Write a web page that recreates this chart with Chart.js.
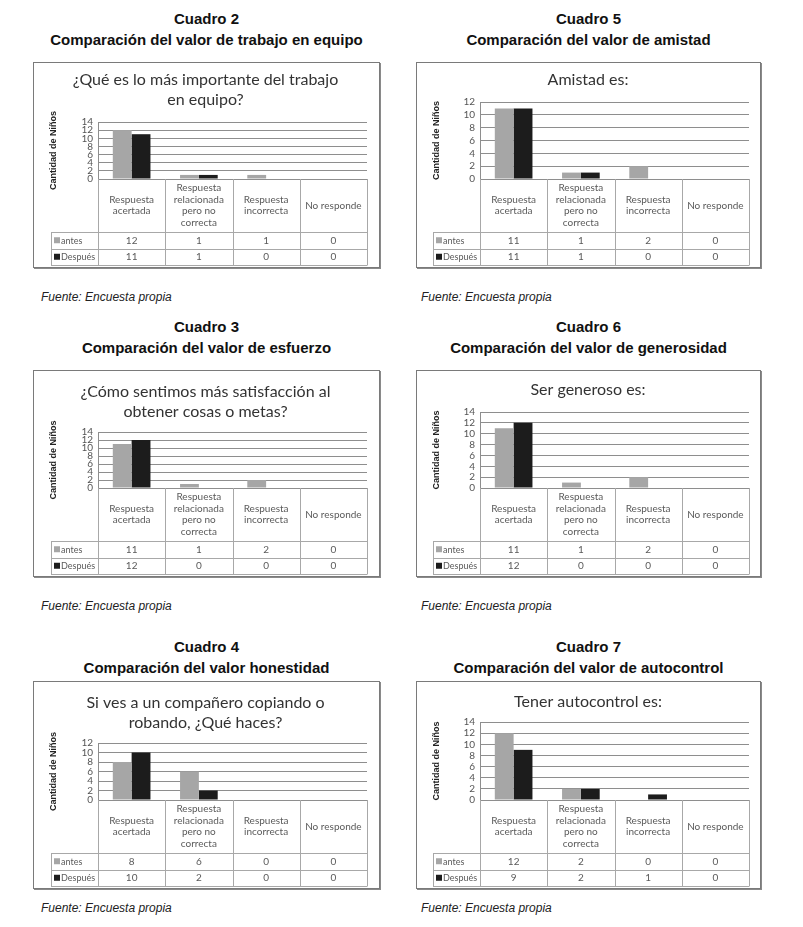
<!DOCTYPE html>
<html>
<head>
<meta charset="utf-8">
<script src="https://cdn.jsdelivr.net/npm/chart.js@4"></script>
<style>
    body { margin: 0; background: #fff; width: 803px; height: 927px; position: relative; overflow: hidden; font-family: "Liberation Sans", Arial, sans-serif; }
    .heading { position: absolute; text-align: center; font-weight: bold; font-size: 15px; line-height: 21px; color: #111; white-space: nowrap; }
    .box { position: absolute; box-sizing: border-box; border: 1px solid #7a7a7a; box-shadow: 1px 1px 0 #8a8a8a; background: #fff; }
    .box canvas { display: block; }
    .source { position: absolute; font-style: italic; font-size: 12px; line-height: 14px; color: #222; white-space: nowrap; }
</style>
</head>
<body>
<script>
// Shared labels
const categories = [
    ['Respuesta', 'acertada'],
    ['Respuesta', 'relacionada', 'pero no', 'correcta'],
    ['Respuesta', 'incorrecta'],
    ['No responde']
];
const seriesNames = ['antes', 'Después'];
const yAxisTitle = 'Cantidad de Niños';
const sourceText = 'Fuente: Encuesta propia';

// Values per chart (antes / Después)
const trabajoAntes = [12, 1, 1, 0];
const trabajoDespues = [11, 1, 0, 0];
const amistadAntes = [11, 1, 2, 0];
const amistadDespues = [11, 1, 0, 0];
const esfuerzoAntes = [11, 1, 2, 0];
const esfuerzoDespues = [12, 0, 0, 0];
const generosidadAntes = [11, 1, 2, 0];
const generosidadDespues = [12, 0, 0, 0];
const honestidadAntes = [8, 6, 0, 0];
const honestidadDespues = [10, 2, 0, 0];
const autocontrolAntes = [12, 2, 0, 0];
const autocontrolDespues = [9, 2, 1, 0];

// Y axis maxima
const yMax = [14, 12, 14, 14, 12, 14];

// Layout of the two columns and three rows
const columns = [
    { boxLeft: 33, boxW: 347, plotLeft: 98, plotRight: 367, legendLeft: 51, sourceLeft: 41 },
    { boxLeft: 416, boxW: 345, plotLeft: 480, plotRight: 749, legendLeft: 433, sourceLeft: 421 }
];
const rows = [
    { headTop: 8, boxTop: 62, zeroY: 179, sourceTop: 290 },
    { headTop: 316, boxTop: 370, zeroY: 488, sourceTop: 599 },
    { headTop: 636, boxTop: 681, zeroY: 800, sourceTop: 901 }
];

const panels = [
    { col: 0, row: 0, cuadro: 'Cuadro 2', heading: 'Comparación del valor de trabajo en equipo',
      title: ['¿Qué es lo más importante del trabajo', 'en equipo?'], titleY: 80, plotTop: 122,
      antes: trabajoAntes, despues: trabajoDespues, max: yMax[0] },
    { col: 1, row: 0, cuadro: 'Cuadro 5', heading: 'Comparación del valor de amistad',
      title: ['Amistad es:'], titleY: 80, plotTop: 102,
      antes: amistadAntes, despues: amistadDespues, max: yMax[1] },
    { col: 0, row: 1, cuadro: 'Cuadro 3', heading: 'Comparación del valor de esfuerzo',
      title: ['¿Cómo sentimos más satisfacción al', 'obtener cosas o metas?'], titleY: 392, plotTop: 432,
      antes: esfuerzoAntes, despues: esfuerzoDespues, max: yMax[2] },
    { col: 1, row: 1, cuadro: 'Cuadro 6', heading: 'Comparación del valor de generosidad',
      title: ['Ser generoso es:'], titleY: 390, plotTop: 412,
      antes: generosidadAntes, despues: generosidadDespues, max: yMax[3] },
    { col: 0, row: 2, cuadro: 'Cuadro 4', heading: 'Comparación del valor honestidad',
      title: ['Si ves a un compañero copiando o', 'robando, ¿Qué haces?'], titleY: 703, plotTop: 743,
      antes: honestidadAntes, despues: honestidadDespues, max: yMax[4] },
    { col: 1, row: 2, cuadro: 'Cuadro 7', heading: 'Comparación del valor de autocontrol',
      title: ['Tener autocontrol es:'], titleY: 702, plotTop: 722,
      antes: autocontrolAntes, despues: autocontrolDespues, max: yMax[5] }
];

const grayBar = '#a6a6a6';
const blackBar = '#1c1c1c';
const tableFont = '10px Lato, "Noto Sans", sans-serif';
const legendFont = '9px Lato, "Noto Sans", sans-serif';
const titleSize = 16;
const titleLine = 20;
const headH = 53;
const rowH = 16.5;

// Plugin drawing the data table under the plot
const tablePlugin = {
    id: 'dataTable',
    afterDraw: (chart, args, opts) => {
        let ctx = chart.ctx;
        let area = chart.chartArea;
        let xs = chart.scales.x;
        let n = chart.data.labels.length;
        let cw = (area.right - area.left) / n;
        let top = area.bottom;
        let r1 = top + headH, r2 = r1 + rowH, r3 = r2 + rowH;
        let left = area.left - opts.legendW;
        let px = (v) => Math.round(v) + 0.5;

        ctx.save();
        ctx.strokeStyle = '#a8a8a8';
        ctx.lineWidth = 1;
        ctx.beginPath();
        [r1, r2, r3].forEach((y) => {
            ctx.moveTo(left, px(y));
            ctx.lineTo(area.right, px(y));
        });
        for (let i = 0; i <= n; i++) {
            let x = px(xs.getPixelForValue(0) - cw / 2 + i * cw);
            ctx.moveTo(x, top);
            ctx.lineTo(x, px(r3));
        }
        ctx.moveTo(px(left), px(r1));
        ctx.lineTo(px(left), px(r3));
        ctx.stroke();

        ctx.font = tableFont;
        ctx.fillStyle = '#5a5a5a';
        ctx.textBaseline = 'middle';
        ctx.textAlign = 'center';
        chart.data.labels.forEach((lines, i) => {
            let cx = xs.getPixelForValue(i);
            let y0 = top + headH / 2 - (lines.length - 1) * 11.5 / 2;
            lines.forEach((line, k) => ctx.fillText(line, cx, y0 + k * 11.5));
        });
        chart.data.datasets.forEach((ds, d) => {
            let cy = r1 + rowH * d + rowH / 2;
            ctx.font = tableFont;
            ctx.textAlign = 'center';
            ctx.fillStyle = '#5a5a5a';
            ds.data.forEach((v, i) => ctx.fillText(String(v), xs.getPixelForValue(i), cy + 0.5));
            ctx.fillStyle = ds.backgroundColor;
            ctx.fillRect(left + 3, cy - 3, 6, 6);
            ctx.font = legendFont;
            ctx.fillStyle = '#5a5a5a';
            ctx.textAlign = 'left';
            ctx.fillText(ds.label, left + 10, cy + 0.5);
        });
        ctx.restore();
    }
};

// Function to build one panel: heading, framed chart and source line
const makePanel = (p) => {
    let c = columns[p.col];
    let r = rows[p.row];

    let head = document.createElement('div');
    head.className = 'heading';
    head.style.left = c.boxLeft + 'px';
    head.style.width = c.boxW + 'px';
    head.style.top = r.headTop + 'px';
    head.innerHTML = p.cuadro + '<br>' + p.heading;
    document.body.appendChild(head);

    let boxH = r.zeroY + 89 - r.boxTop;
    let box = document.createElement('div');
    box.className = 'box';
    box.style.left = c.boxLeft + 'px';
    box.style.top = r.boxTop + 'px';
    box.style.width = c.boxW + 'px';
    box.style.height = boxH + 'px';
    let canvas = document.createElement('canvas');
    let cw = c.boxW - 2, ch = boxH - 2;
    canvas.width = cw;
    canvas.height = ch;
    box.appendChild(canvas);
    document.body.appendChild(box);

    let src = document.createElement('div');
    src.className = 'source';
    src.style.left = c.sourceLeft + 'px';
    src.style.top = r.sourceTop + 'px';
    src.textContent = sourceText;
    document.body.appendChild(src);

    let canvasLeft = c.boxLeft + 1;
    let canvasTop = r.boxTop + 1;
    let titleTop = p.titleY - canvasTop - titleLine / 2;
    let titleBottom = p.plotTop - canvasTop - titleTop - p.title.length * titleLine;
    let padLeft = 10;

    new Chart(canvas, {
        type: 'bar',
        data: {
            labels: categories,
            datasets: [
                { label: seriesNames[0], data: p.antes, backgroundColor: grayBar },
                { label: seriesNames[1], data: p.despues, backgroundColor: blackBar }
            ]
        },
        options: {
            responsive: false,
            animation: false,
            events: [],
            layout: {
                padding: { left: padLeft, right: cw - (c.plotRight - canvasLeft), top: 0, bottom: ch - (r.zeroY - canvasTop) }
            },
            datasets: { bar: { categoryPercentage: 0.56, barPercentage: 1 } },
            scales: {
                x: { display: false },
                y: {
                    min: 0,
                    max: p.max,
                    afterFit: (scale) => { scale.width = c.plotLeft - canvasLeft - padLeft; },
                    ticks: { stepSize: 2, autoSkip: false, padding: 5, color: '#555', font: { family: 'Lato', size: 10 } },
                    grid: { color: '#8e8e8e', drawTicks: false },
                    border: { display: true, color: '#8e8e8e' },
                    title: {
                        display: true, text: yAxisTitle, color: '#222',
                        font: { family: '"Liberation Sans", Arial', size: 9, weight: 'bold' },
                        padding: { top: 4, bottom: 0 }
                    }
                }
            },
            plugins: {
                legend: { display: false },
                tooltip: { enabled: false },
                title: {
                    display: true, text: p.title, color: '#333',
                    font: { family: 'Lato', size: titleSize, weight: 'normal', lineHeight: titleLine / titleSize },
                    padding: { top: titleTop, bottom: titleBottom }
                },
                dataTable: { legendW: c.plotLeft - c.legendLeft }
            }
        },
        plugins: [tablePlugin]
    });
};

panels.forEach(makePanel);
</script>
</body>
</html>
